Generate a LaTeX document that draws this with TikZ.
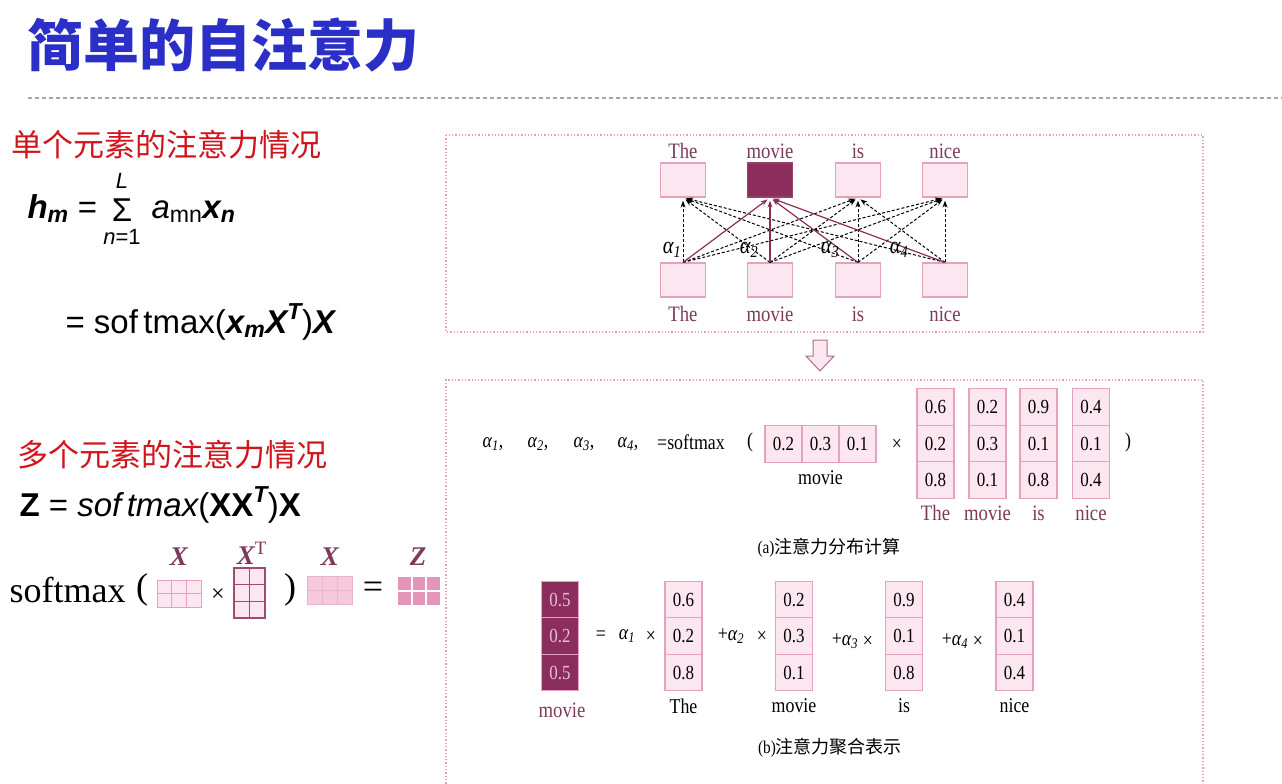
\documentclass[tikz,border=0pt]{standalone}
\usepackage{fix-cm}
\usepackage{amsmath}
\usepackage{fontspec}
\setmainfont{Liberation Serif}
\setsansfont{Liberation Sans}
\newfontfamily\cjk{Noto Sans CJK SC}
\newfontfamily\narrow{Liberation Serif}[FakeStretch=0.85]
\usetikzlibrary{arrows.meta,positioning}

\definecolor{titleblue}{RGB}{43,47,200}
\definecolor{headred}{RGB}{208,22,28}
\definecolor{cellfill}{RGB}{252,230,240}
\definecolor{cellline}{RGB}{230,160,192}
\definecolor{deepmag}{RGB}{139,46,93}
\definecolor{wordmag}{RGB}{125,58,90}
\definecolor{gridfill}{RGB}{246,200,220}
\definecolor{zfill}{RGB}{228,150,186}

\newcommand\fsz[1]{\fontsize{#1}{#1}\selectfont}
\newcommand\sv[1]{\textsf{\bfseries\itshape #1}}
\newcommand\si[1]{\textsf{\itshape #1}}
\newcommand\sr[1]{\textsf{#1}}
\newcommand\seq{\mathrel{\sr{=}}}
\newcommand\al[1]{{\itshape α\textsubscript{#1}}}

\begin{document}
\begin{tikzpicture}[x=1pt, y=-1pt,
  zh/.style={font=\cjk\fsz{31}, text=headred, anchor=west},
  formula/.style={font=\fsz{33}, anchor=base west},
  limit/.style={font=\sffamily\fsz{22}, inner sep=0pt},
  tok/.style={draw=cellline, fill=cellfill, line width=1.2pt, minimum width=45pt, minimum height=34pt, inner sep=0pt},
  hot/.style={tok, fill=deepmag, draw=deepmag!85!cellline},
  cell/.style={draw=cellline, fill=cellfill, line width=1.2pt, minimum width=37pt, minimum height=36.5pt, inner sep=0pt, font=\narrow\fsz{20}},
  darkcell/.style={cell, fill=deepmag, text=cellfill!80!deepmag},
  word/.style={font=\narrow\fsz{22}, text=wordmag},
  op/.style={font=\narrow\fsz{21}},
  attn/.style={densely dashed, line width=1pt, -{Stealth[length=7pt,width=5pt]}, shorten >=3pt},
  focus/.style={deepmag, line width=1.2pt, -{Stealth[length=7pt,width=5pt]}, shorten >=3pt},
  panel/.style={cellline, line width=1.3pt, dotted},
  big/.style={font=\fsz{36}},
  mat/.style={font=\bfseries\itshape\fsz{27}, text=wordmag}]

\useasboundingbox[fill=white] (0,0) rectangle (1282,784);

% title
\node[font=\cjk\bfseries\fsz{56}, text=titleblue, anchor=west] (title) at (24,45) {简单的自注意力};
\draw[gray!70, line width=1.2pt, dash pattern=on 4pt off 3pt] (28,98) -- (1282,98);

% left: formulas
\node[zh] (single) at (8,145) {单个元素的注意力情况};
\node[formula] (hm) at (24,218) {$\sv{h}_{\sv{m}} \seq$};
\node[font=\sffamily\fsz{33}, anchor=base, inner sep=0pt] (sig) at (122,221) {Σ};
\node[limit, above=9pt of sig] (sup) {\itshape L};
\node[limit, below=8pt of sig] (sub) {\textit{n}=1};
\node[formula] (amn) at (148,218) {$\si{a}_{\sr{mn}}\sv{x}_{\sv{n}}$};
\node[formula] (hm2) at (62,333) {$\seq \sr{sof\,tmax(}\sv{x}_{\sv{m}}\sv{X}^{\sv{T}}\sr{)}\sv{X}$};
\node[zh] (multi) at (14,455) {多个元素的注意力情况};
\node[formula] (zz) at (16,516) {$\textsf{\bfseries Z} \seq \si{sof\,tmax}\sr{(}\textsf{\bfseries XX}^{\sv{T}}\sr{)}\textsf{\bfseries X}$};

% left: small matrices
\node[big, anchor=west] (sm) at (6,590) {softmax};
\node[big] (lp) at (142,590) {(};
\filldraw[cellline, fill=cellfill, line width=1pt] (157,580) rectangle (201,607);
\draw[cellline, line width=1pt] (171.7,580) -- (171.7,607) (186.3,580) -- (186.3,607) (157,593.5) -- (201,593.5);
\node[mat] (lx) at (179,557) {X};
\node[font=\fsz{24}] (tm) at (218,595) {×};
\filldraw[deepmag!75!cellline, fill=cellfill, line width=1.3pt] (234,568) rectangle (265,618);
\draw[deepmag!75!cellline, line width=1.3pt] (249.5,568) -- (249.5,618) (234,584.7) -- (265,584.7) (234,601.3) -- (265,601.3);
\node[mat] (lxt) at (252,553) {X\textsuperscript{\mdseries\upshape T}};
\node[big] (rp) at (290,590) {)};
\filldraw[cellline!80, fill=gridfill, line width=1pt] (307,576) rectangle (352,604);
\draw[cellline!80, line width=1pt] (322,576) -- (322,604) (337,576) -- (337,604) (307,590) -- (352,590);
\node[mat] (lx2) at (330,557) {X};
\node[big] (eq) at (373,590) {=};
\fill[zfill] (398,577) rectangle (440,605);
\draw[white, line width=2pt] (412,577) -- (412,605) (426,577) -- (426,605) (398,591) -- (440,591);
\node[mat] (lz) at (418,557) {Z};

% right top: attention graph
\draw[panel] (446,135) rectangle (1203,332);
\foreach \w/\cx/\st [count=\i] in {The/683/tok, movie/770/hot, is/858/tok, nice/945/tok}{
  \node[\st] (t\i) at (\cx,180) {};
  \node[word] (tw\i) at (\cx,151) {\w};
  \node[tok] (b\i) at (\cx,280) {};
  \node[word] (bw\i) at (\cx,314) {\w};
}
\foreach \i in {1,...,4}{
  \foreach \j in {1,3,4}
    \draw[attn] (b\i.north) -- (t\j.south);
}
\foreach \i in {1,...,4}
  \draw[focus] (b\i.north) -- (t2.south);
\foreach \i/\ax in {1/672, 2/749, 3/830, 4/899}
  \node[font=\narrow\fsz{24}] (ga\i) at (\ax,250) {\al{\i}};

% arrow between panels
\draw[deepmag!70, fill=cellfill, line width=1pt] (813,340) -- (827,340) -- (827,356) -- (834,356) -- (820,371) -- (806,356) -- (813,356) -- cycle;

% right bottom panel
\draw[panel] (446,800) -- (446,380) -- (1203,380) -- (1203,800);

% (a) attention weights
\foreach \i/\ax in {1/493, 2/538, 3/584, 4/628}
  \node[op] (wa\i) at (\ax,444) {\al{\i},};
\node[op] (sfx) at (691,442) {=softmax};
\node[op] (lpa) at (750,442) {(};
\node[cell] (q1) at (783.5,444) {0.2};
\node[cell, right=-1.2pt of q1] (q2) {0.3};
\node[cell, right=-1.2pt of q2] (q3) {0.1};
\node[op] (qw) at (820.5,478) {movie};
\node[op] (tma) at (897,445) {×};
\foreach \nm/\cx/\va/\vb/\vc in {The/935.5/0.6/0.2/0.8, movie/987.5/0.2/0.3/0.1, is/1038.5/0.9/0.1/0.8, nice/1091/0.4/0.1/0.4}{
  \node[cell] (k\nm1) at (\cx,407) {\va};
  \node[cell, below=-1.2pt of k\nm1] (k\nm2) {\vb};
  \node[cell, below=-1.2pt of k\nm2] (k\nm3) {\vc};
  \node[word] (kw\nm) at (\cx,513) {\nm};
}
\node[op] (rpa) at (1128,442) {)};
\node[font=\cjk\fsz{18}] (capa) at (829,548) {{\narrow(a)}注意力分布计算};

% (b) weighted sum
\node[darkcell] (h1) at (560,599.5) {0.5};
\node[darkcell, below=-1.2pt of h1] (h2) {0.2};
\node[darkcell, below=-1.2pt of h2] (h3) {0.5};
\node[word] (hw) at (562,710) {movie};
\node[op] (eqb) at (601,636) {=};
\foreach \nm/\cx/\va/\vb/\vc in {The/683.5/0.6/0.2/0.8, movie/794/0.2/0.3/0.1, is/904/0.9/0.1/0.8, nice/1014.5/0.4/0.1/0.4}{
  \node[cell] (v\nm1) at (\cx,599.5) {\va};
  \node[cell, below=-1.2pt of v\nm1] (v\nm2) {\vb};
  \node[cell, below=-1.2pt of v\nm2] (v\nm3) {\vc};
  \node[op] (vw\nm) at (\cx,706) {\nm};
}
\node[op] (p1) at (627,636) {\al{1}};
\node[op] (x1) at (651,637) {×};
\node[op] (p2) at (731,636) {+\al{2}};
\node[op] (x2) at (762,637) {×};
\node[op] (p3) at (845,641) {+\al{3}};
\node[op] (x3) at (868,642) {×};
\node[op] (p4) at (955,641) {+\al{4}};
\node[op] (x4) at (978,642) {×};
\node[font=\cjk\fsz{18}] (capb) at (830,748) {{\narrow(b)}注意力聚合表示};

\end{tikzpicture}
\end{document}
